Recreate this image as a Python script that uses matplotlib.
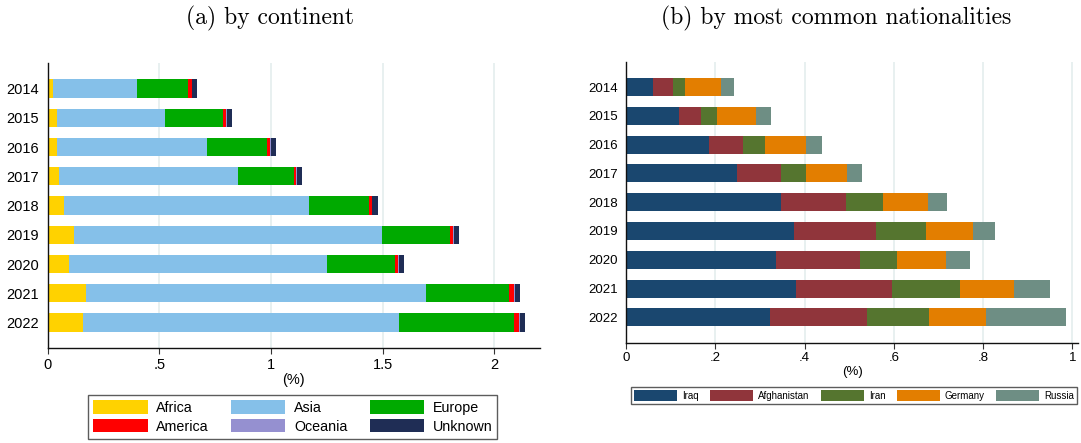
import matplotlib
matplotlib.use("Agg")
import matplotlib.pyplot as plt
import numpy as np

# ==============================================================================
# Data
# ==============================================================================
years = ["2014", "2015", "2016", "2017", "2018", "2019", "2020", "2021", "2022"]

# (a) by continent, in %
continents = ["Africa", "Asia", "Europe", "America", "Oceania", "Unknown"]
africa  = [0.025, 0.040, 0.043, 0.052, 0.074, 0.116, 0.097, 0.173, 0.160]
asia    = [0.373, 0.487, 0.672, 0.802, 1.097, 1.382, 1.156, 1.522, 1.415]
europe  = [0.231, 0.259, 0.268, 0.249, 0.270, 0.305, 0.303, 0.371, 0.514]
america = [0.017, 0.014, 0.015, 0.009, 0.010, 0.014, 0.014, 0.025, 0.023]
oceania = [0.002, 0.002, 0.002, 0.003, 0.003, 0.002, 0.002, 0.002, 0.003]
unknown = [0.021, 0.025, 0.023, 0.025, 0.027, 0.024, 0.024, 0.024, 0.024]

# (b) by most common nationalities, in %
nations     = ["Iraq", "Afghanistan", "Iran", "Germany", "Russia"]
iraq        = [0.059, 0.118, 0.186, 0.248, 0.347, 0.376, 0.335, 0.380, 0.322]
afghanistan = [0.045, 0.049, 0.075, 0.099, 0.146, 0.184, 0.189, 0.216, 0.218]
iran        = [0.027, 0.036, 0.049, 0.056, 0.083, 0.112, 0.083, 0.153, 0.138]
germany     = [0.081, 0.087, 0.093, 0.093, 0.101, 0.106, 0.110, 0.121, 0.129]
russia      = [0.029, 0.034, 0.036, 0.032, 0.042, 0.049, 0.054, 0.081, 0.178]

# ==============================================================================
# Style
# ==============================================================================
cont_colors = {"Africa": "#FFD200", "Asia": "#85C0E9", "Europe": "#00AA00",
               "America": "#FF0000", "Oceania": "#9590D0", "Unknown": "#1F2D55"}
nat_colors = ["#1A476F", "#90353B", "#55752F", "#E37E00", "#6E8E84"]
GRID = "#E4EDED"
SANS = "Liberation Sans"
SERIF = "cmr10"

plt.rcParams["font.family"] = [SANS, "DejaVu Sans"]

fig = plt.figure(figsize=(10.81, 4.43), dpi=100)
W, H = 1081, 443

def px_axes(x0, x1, y0, y1):
    return fig.add_axes([x0 / W, 1 - y1 / H, (x1 - x0) / W, (y1 - y0) / H])

def style_axes(ax, xmax, ticks, ticklabels, fs):
    ypos = np.arange(len(years))
    ax.set_ylim(len(years) - 1 + 0.88, -0.88)
    ax.set_xlim(0, xmax)
    ax.set_yticks(ypos)
    ax.set_yticklabels(years, fontsize=fs)
    ax.set_xticks(ticks)
    ax.set_xticklabels(ticklabels, fontsize=fs)
    ax.tick_params(axis="y", length=0, pad=6)
    ax.tick_params(axis="x", length=4, width=0.8, color="#333333", pad=3)
    for s in ("top", "right"):
        ax.spines[s].set_visible(False)
    for s in ("left", "bottom"):
        ax.spines[s].set_linewidth(1.0)
        ax.spines[s].set_color("#111111")
    for t in ticks[1:]:
        ax.axvline(t, color=GRID, lw=1.2, zorder=0)
    ax.set_xlabel("(%)", fontsize=fs, labelpad=1)

def stacked(ax, series, colors, labels, h):
    ypos = np.arange(len(years))
    left = np.zeros(len(years))
    handles = {}
    for vals, c, lab in zip(series, colors, labels):
        vals = np.array(vals)
        b = ax.barh(ypos, vals, left=left, height=h, color=c, label=lab, zorder=2,
                    linewidth=0)
        handles[lab] = b
        left = left + vals
    return handles

# ------------------------------------------------------------------ (a)
axA = px_axes(47.7, 539.7, 62.8, 348.3)
hA = stacked(axA, [africa, asia, europe, america, oceania, unknown],
             [cont_colors[c] for c in continents], continents, 0.62)
style_axes(axA, 2.204, [0, 0.5, 1, 1.5, 2], ["0", ".5", "1", "1.5", "2"], 10.5)
order = ["Africa", "America", "Asia", "Oceania", "Europe", "Unknown"]
legA = fig.legend([hA[k] for k in order], order, loc="upper left",
                  bbox_to_anchor=(88.3 / W, 1 - 395.3 / H), ncol=3, fontsize=10.3,
                  frameon=True, fancybox=False, edgecolor="#333333",
                  handlelength=3.8, handleheight=1.05, handletextpad=0.6,
                  columnspacing=1.55, labelspacing=0.3, borderpad=0.35,
                  borderaxespad=0)
legA.get_frame().set_linewidth(1.0)
fig.text(270 / W, 1 - 18 / H, "(a) by continent", family=SERIF, fontsize=17,
         ha="center", va="center")

# ------------------------------------------------------------------ (b)
axB = px_axes(626.3, 1078, 61.7, 342.7)
hB = stacked(axB, [iraq, afghanistan, iran, germany, russia], nat_colors, nations, 0.63)
style_axes(axB, 1.013, [0, 0.2, 0.4, 0.6, 0.8, 1], ["0", ".2", ".4", ".6", ".8", "1"], 9.5)
legB = fig.legend([hB[k] for k in nations], nations, loc="upper left",
                  bbox_to_anchor=(631.3 / W, 1 - 387.3 / H), ncol=5, fontsize=7,
                  frameon=True, fancybox=False, edgecolor="#333333",
                  handlelength=4.4, handleheight=1.4, handletextpad=0.55,
                  columnspacing=1.15, borderpad=0.3, borderaxespad=0)
legB.get_frame().set_linewidth(1.0)
fig.text(836 / W, 1 - 18 / H, "(b) by most common nationalities", family=SERIF,
         fontsize=17, ha="center", va="center")

fig.savefig("out.png", dpi=100)
